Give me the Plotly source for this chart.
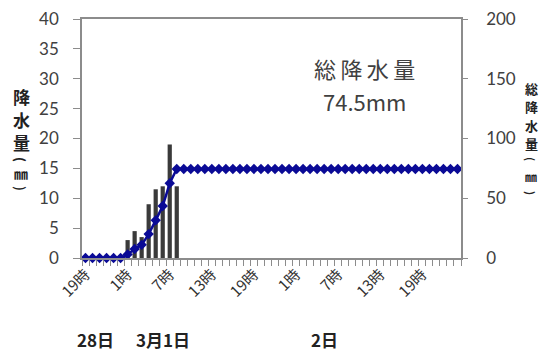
import plotly.graph_objects as go

# hourly categories from 28日19時 to 3月2日24時
hours = [19, 20, 21, 22, 23, 24,
         1, 2, 3, 4, 5, 6, 7, 8, 9, 10, 11, 12, 13, 14, 15, 16, 17, 18, 19, 20, 21, 22, 23, 24,
         1, 2, 3, 4, 5, 6, 7, 8, 9, 10, 11, 12, 13, 14, 15, 16, 17, 18, 19, 20, 21, 22, 23, 24]

rain = [0, 0, 0, 0, 0, 0,
        3.0, 4.5, 3.5, 9.0, 11.5, 12.0, 19.0, 12.0, 0, 0, 0, 0, 0, 0, 0, 0, 0, 0, 0, 0, 0, 0, 0, 0,
        0, 0, 0, 0, 0, 0, 0, 0, 0, 0, 0, 0, 0, 0, 0, 0, 0, 0, 0, 0, 0, 0, 0, 0]

total = [0, 0, 0, 0, 0, 0,
         3.0, 7.5, 11.0, 20.0, 31.5, 43.5, 62.5, 74.5, 74.5, 74.5, 74.5, 74.5, 74.5, 74.5, 74.5, 74.5,
         74.5, 74.5, 74.5, 74.5, 74.5, 74.5, 74.5, 74.5,
         74.5, 74.5, 74.5, 74.5, 74.5, 74.5, 74.5, 74.5, 74.5, 74.5, 74.5, 74.5, 74.5, 74.5, 74.5, 74.5,
         74.5, 74.5, 74.5, 74.5, 74.5, 74.5, 74.5, 74.5]

tick_pos = [0, 6, 12, 18, 24, 30, 36, 42, 48]
tick_text = ['19時', '1時', '7時', '13時', '19時', '1時', '7時', '13時', '19時']

day_labels = ['28日', '3月1日', '2日']
day_pos = [1.4, 11.0, 34.0]

left_title = ['降', '水', '量', '(', '㎜', ')']
right_title = ['総', '降', '水', '量', '(', '㎜', ')']

FONT = 'Noto Sans CJK JP'
NUMFONT = 'Lato'
AXIS = '#8c8c8c'
TXT = '#404040'
DARK = '#222222'

# the page body adds an 8px margin, so work in page pixels and shift back
OFF = 8
L, R, T, B = 82 - OFF, 461 - OFF, 19 - OFF, 258 - OFF
FW, FH = 548 - OFF, 352 - OFF
W, H = R - L, B - T


def px_x(px):
    return (px - OFF - L) / W


def px_y(py):
    return (B - (py - OFF)) / H


x = list(range(len(hours)))

fig = go.Figure()

fig.add_trace(go.Bar(
    x=x, y=rain,
    marker=dict(color='#3a3a3a', line=dict(width=0)),
    width=0.6,
    name='降水量',
))

fig.add_trace(go.Scatter(
    x=x, y=total,
    yaxis='y2',
    mode='lines+markers',
    line=dict(color='#0a0a96', width=2.5),
    marker=dict(symbol='diamond', size=8, color='#0a0a96'),
    cliponaxis=False,
    name='総降水量',
))

fig.update_layout(
    width=FW, height=FH,
    margin=dict(l=L, r=FW - R, t=T, b=FH - B, pad=0),
    plot_bgcolor='white',
    paper_bgcolor='white',
    showlegend=False,
    font=dict(family=FONT, color=TXT),
    xaxis=dict(
        range=[-0.5, len(hours) - 0.5],
        automargin=False,
        tickmode='array',
        tickvals=tick_pos,
        ticktext=tick_text,
        tickangle=-45,
        ticks='',
        tickfont=dict(size=15, color='#333333'),
        showline=True, linecolor=AXIS, linewidth=1.5, mirror=True,
        showgrid=False, zeroline=False,
        minor=dict(
            tickmode='array',
            tickvals=[i - 0.5 for i in range(len(hours) + 1)],
            ticks='outside', ticklen=6, tickcolor=AXIS, tickwidth=1,
        ),
    ),
    yaxis=dict(
        range=[0, 40], dtick=5,
        automargin=False,
        ticklabeloverflow='allow',
        ticks='outside', ticklen=7, tickcolor=AXIS,
        tickfont=dict(family=NUMFONT, size=17, color=TXT),
        ticklabelstandoff=11,
        showline=True, linecolor=AXIS, linewidth=1.5,
        showgrid=False, zeroline=False,
    ),
    yaxis2=dict(
        range=[0, 200], dtick=50,
        automargin=False,
        ticklabeloverflow='allow',
        overlaying='y', side='right',
        ticks='outside', ticklen=5, tickcolor=AXIS,
        tickfont=dict(family=NUMFONT, size=17, color=TXT),
        ticklabelstandoff=15,
        showline=True, linecolor=AXIS, linewidth=1.5,
        showgrid=False, zeroline=False,
    ),
)


def note(px, py, text, size, color, angle=0, xref='x domain'):
    fig.add_annotation(x=px, y=px_y(py), xref=xref, yref='y domain', text=text,
                       showarrow=False, xanchor='center', yanchor='middle', borderpad=0,
                       textangle=angle, font=dict(size=size, color=color))


# summary text inside the plot
note(px_x(364), 68, '総\u2009降\u2009水\u2009量', 22, TXT)
note(px_x(365), 101, '74.5mm', 22, TXT)

# vertical axis titles, one character per row
left_y = [96, 119, 142, 159, 173, 188]
left_size = [17, 17, 17, 13, 14, 13]
for ch, py, sz in zip(left_title, left_y, left_size):
    paren = ch in '()'
    note(px_x(21), py, '<b>' + ch + '</b>', sz, DARK, 90 if paren else 0)

right_y = [88, 106.5, 125, 143.5, 159, 176, 193]
right_size = [13, 13, 13, 13, 11, 12, 11]
for ch, py, sz in zip(right_title, right_y, right_size):
    paren = ch in '()'
    note(px_x(531), py, '<b>' + ch + '</b>', sz, DARK, 90 if paren else 0)

# day labels under the axis
for lbl, pos in zip(day_labels, day_pos):
    note(pos, 339, '<b>' + lbl + '</b>', 17, DARK, xref='x')

fig.write_html('out.html')
